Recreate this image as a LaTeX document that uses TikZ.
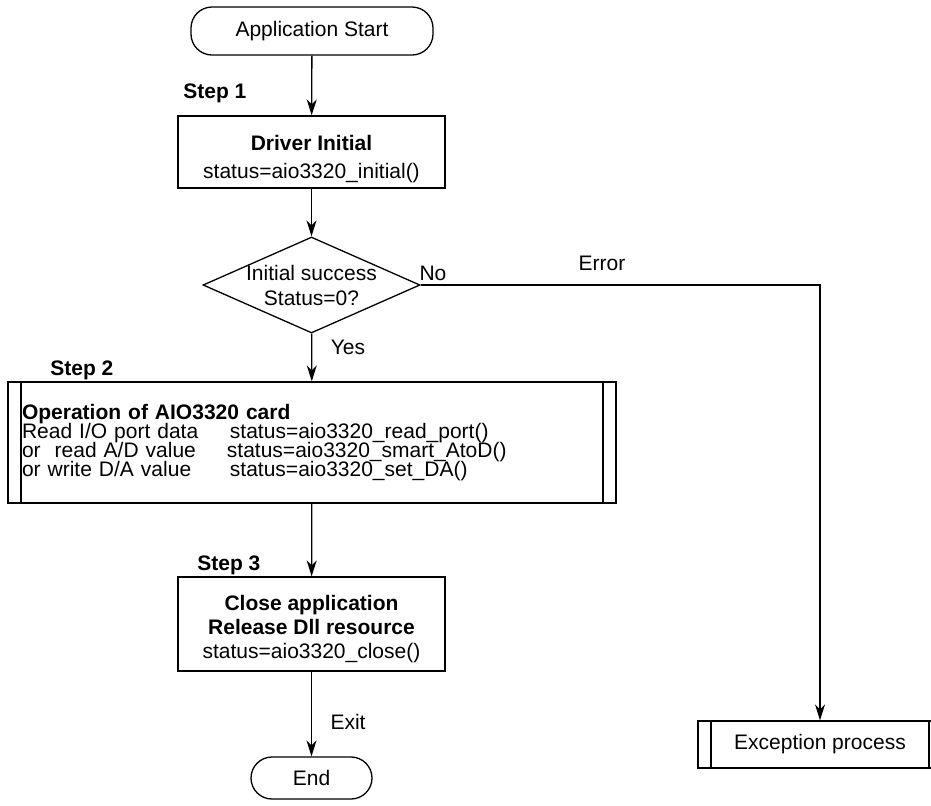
\documentclass[tikz,border=0pt]{standalone}
\usepackage{fontspec}
\setmainfont{Liberation Sans}
\usetikzlibrary{shapes.geometric,arrows.meta,positioning}

\tikzset{
  flowline/.style={line width=0.65pt, -{Stealth[length=8pt,width=5pt,inset=2.5pt]}},
  termbox/.style={draw, line width=0.65pt, rectangle, rounded corners=10.5pt, align=center, inner sep=0pt},
  procbox/.style={draw, line width=0.65pt, rectangle, align=center, inner sep=0pt},
  subproc/.style={procbox, path picture={
      \draw[line width=0.65pt] ([xshift=6.5pt]path picture bounding box.north west) -- ([xshift=6.5pt]path picture bounding box.south west);
      \draw[line width=0.65pt] ([xshift=-6.5pt]path picture bounding box.north east) -- ([xshift=-6.5pt]path picture bounding box.south east);}},
  decbox/.style={draw, line width=0.65pt, diamond, inner sep=0pt},
  steplabel/.style={font=\fontsize{10.5}{12}\selectfont\bfseries, anchor=west, inner sep=0pt},
  flowlabel/.style={inner sep=0pt},
}

\begin{document}
\begin{tikzpicture}[x=0.5pt,y=-0.5pt, font=\fontsize{10.5}{12.5}\selectfont]
    \useasboundingbox (0,0) rectangle (931,805);
    \clip (0,0) rectangle (931,805);

    % Start / end
    \node[termbox, minimum width=121pt, minimum height=24pt] (start) at (312,31) {Application Start};
    \node[termbox, minimum width=60.5pt, minimum height=21pt] (finish) at (311.5,778) {End};

    % Step 1
    \node[steplabel] (stepA) at (183,93) {Step 1};
    \node[procbox, minimum width=133.5pt, minimum height=36pt,
          font={\fontsize{10.5}{14}\selectfont}] (driver) at (311.5,152)
        {\rule{0pt}{14.6pt}\textbf{Driver Initial}\\status=aio3320\_initial()};

    % Check
    \node[decbox, minimum width=108.5pt, minimum height=48pt] (check) at (311.5,285) {};
    \node[flowlabel, align=center, font={\fontsize{10.5}{12.5}\selectfont}] (checktext) at (check.center) {Initial success\\Status=0?};

    % Step 2
    \node[steplabel] (stepB) at (50,370) {Step 2};
    \node[subproc, minimum width=304pt, minimum height=60.5pt, text width=290pt, inner xsep=7pt, align=left,
          font={\fontsize{10.5}{9.4}\selectfont\lineskiplimit=-6pt}] (oper) at (312,442.5)
        {\textbf{Operation of AIO3320 card}\\
         \makebox[104pt][l]{Read I/O port data}status=aio3320\_read\_port()\\
         \makebox[102.5pt][l]{or\ \ read A/D value}status=aio3320\_smart\_AtoD()\\
         \makebox[104pt][l]{or write D/A value}status=aio3320\_set\_DA()};

    % Step 3
    \node[steplabel] (stepC) at (197,565) {Step 3};
    \node[procbox, minimum width=133.5pt, minimum height=47pt,
          font={\fontsize{10.5}{12}\selectfont}] (close) at (311.5,624)
        {\rule{0pt}{12.6pt}\textbf{Close application}\\\textbf{Release Dll resource}\\status=aio3320\_close()};

    % Error branch
    \node[subproc, minimum width=122pt, minimum height=23.5pt] (except) at (820,744.5) {Exception process};

    % Connectors
    \draw[flowline] (start) -- (driver);
    \draw[flowline] (driver) -- (check);
    \draw[flowline] (check) -- (oper);
    \draw[flowline] (oper) -- (close);
    \draw[flowline] (close) -- (finish);
    \draw[flowline] (check.east) -| (except.north);

    % Labels
    \node[flowlabel] (noLbl) at (433,273) {No};
    \node[flowlabel] (errLbl) at (602,263) {Error};
    \node[flowlabel] (yesLbl) at (348,347) {Yes};
    \node[flowlabel] (exitLbl) at (348,722) {Exit};
\end{tikzpicture}
\end{document}
